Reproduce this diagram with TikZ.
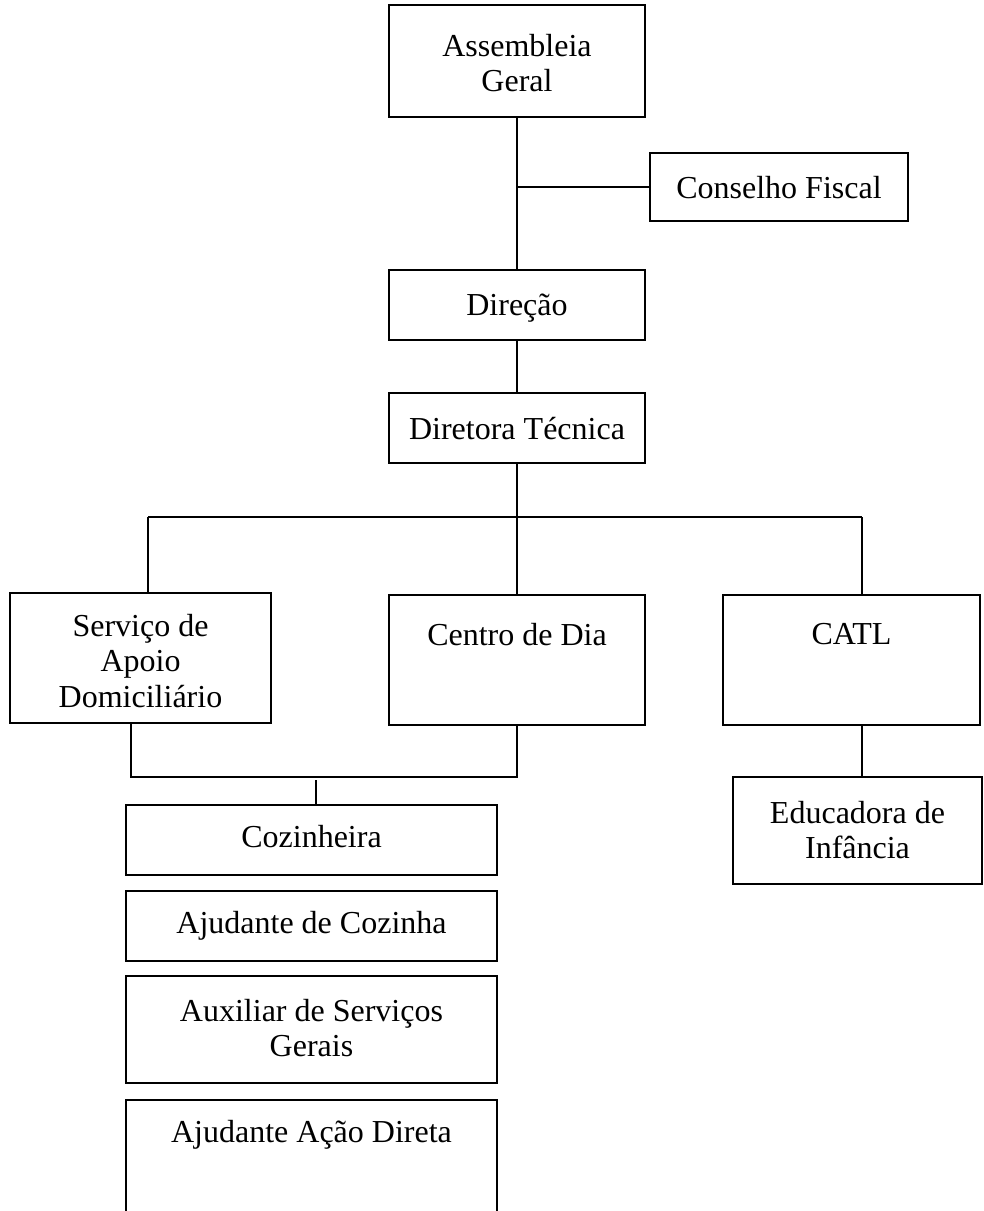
\documentclass[tikz,border=0pt]{standalone}
\usepackage{fontspec}
\setmainfont{Liberation Serif}
\begin{document}
\begin{tikzpicture}[x=0.5pt,y=-0.5pt,
  box/.style={draw, line width=1pt, inner sep=0pt, outer sep=0pt, anchor=north west},
  txt/.style={anchor=north, inner sep=0pt, align=center, font=\fontsize{16pt}{17.75pt}\selectfont},
  conn/.style={line width=1pt}]
\useasboundingbox (0,0) rectangle (984,1211);
\clip (0,0) rectangle (984,1211);
% boxes
\node[box, minimum width=128pt, minimum height=56pt] (ag) at (389,5) {};
\node[box, minimum width=129pt, minimum height=34pt] (cf) at (650,153) {};
\node[box, minimum width=128pt, minimum height=35pt] (dir) at (389,270) {};
\node[box, minimum width=128pt, minimum height=35pt] (dt) at (389,393) {};
\node[box, minimum width=130.5pt, minimum height=65pt] (sad) at (10,593) {};
\node[box, minimum width=128pt, minimum height=65pt] (cd) at (389,595) {};
\node[box, minimum width=128.5pt, minimum height=65pt] (catl) at (723,595) {};
\node[box, minimum width=124.5pt, minimum height=53.5pt] (ei) at (733,777) {};
\node[box, minimum width=185.5pt, minimum height=35pt] (coz) at (126,805) {};
\node[box, minimum width=185.5pt, minimum height=35pt] (ajc) at (126,891) {};
\node[box, minimum width=185.5pt, minimum height=53.5pt] (aux) at (126,976) {};
\node[box, minimum width=185.5pt, minimum height=70pt] (aad) at (126,1100) {};
% texts
\node[txt, yshift=-14.25pt] (agt) at (ag.north) {Assembleia\\Geral};
\node[txt, yshift=-11.25pt] (cft) at (cf.north) {Conselho Fiscal};
\node[txt, yshift=-11.75pt] (dirt) at (dir.north) {Direção};
\node[txt, yshift=-11.75pt] (dtt) at (dt.north) {Diretora Técnica};
\node[txt, yshift=-10.25pt] (sadt) at (sad.north) {Serviço de\\Apoio\\Domiciliário};
\node[txt, yshift=-13.75pt] (cdt) at (cd.north) {Centro de Dia};
\node[txt, yshift=-13.75pt] (catlt) at (catl.north) {CATL};
\node[txt, yshift=-11.75pt] (eit) at (ei.north) {Educadora de\\Infância};
\node[txt, yshift=-9.75pt] (cozt) at (coz.north) {Cozinheira};
\node[txt, yshift=-9.75pt] (ajct) at (ajc.north) {Ajudante de Cozinha};
\node[txt, yshift=-11.25pt] (auxt) at (aux.north) {Auxiliar de Serviços\\Gerais};
\node[txt, yshift=-9.75pt] (aadt) at (aad.north) {Ajudante Ação Direta};
% junction coordinates
\coordinate (jcf) at (517,187);
\coordinate (busl) at (148,517);
\coordinate (busm) at (517,517);
\coordinate (busr) at (862,517);
\coordinate (sadb) at (131,723);
\coordinate (low1) at (131,777);
\coordinate (low2) at (517,777);
\coordinate (cozj) at (316,780);
% connectors
\draw[conn] (ag.south) -- (dir.north);
\draw[conn] (jcf) -- (jcf -| cf.west);
\draw[conn] (dir.south) -- (dt.north);
\draw[conn] (dt.south) -- (busm);
\draw[conn] (busl) -- (busr);
\draw[conn] (busl) -- (busl |- sad.north);
\draw[conn] (busm) -- (cd.north);
\draw[conn] (busr) -- (busr |- catl.north);
\draw[conn] (sadb |- sad.south) -- (low1) -- (low2) -- (cd.south);
\draw[conn] (cozj) -- (cozj |- coz.north);
\draw[conn] (busr |- catl.south) -- (busr |- ei.north);
\end{tikzpicture}
\end{document}
